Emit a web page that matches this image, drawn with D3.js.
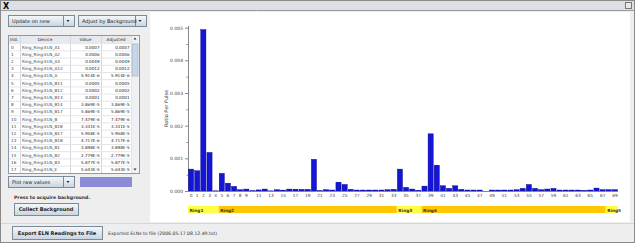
<!DOCTYPE html>
<html>
<head>
<meta charset="utf-8">
<script src="https://cdn.jsdelivr.net/npm/d3@7"></script>
<style>
body { margin: 0; background: #eeeeee; overflow: hidden; }
svg text { font-family: "DejaVu Sans", sans-serif; }
</style>
</head>
<body>
<svg id="app" width="635" height="243"></svg>
<script>
// bar categories (ELN index) and ratio per pulse
var categories = [0,1,2,3,4,5,6,7,8,9,10,11,12,13,14,15,16,17,18,19,
	20,21,22,23,24,25,26,27,28,29,30,31,32,33,34,35,36,37,38,39,
	40,41,42,43,44,45,46,47,48,49,50,51,52,53,54,55,56,57,58,59,
	60,61,62,63,64,65,66,67,68,69];
var values = [0.00067, 0.00062, 0.00494, 0.00118, 0.000005914, 0.00054, 0.00024, 0.00014, 0.00003869, 0.00005869,
	0.000007479, 0.00003331, 0.00005958, 0.000004717, 0.00003898, 0.00002779, 0.00005877, 0.00005643, 0.00005, 0.00005,
	0.00097, 0.00001, 0.00004, 0.00003, 0.00027, 0.0002, 0.00005, 0.00003, 0.00003, 0.00003,
	0.00003, 0.00003, 0.00004, 0.00005, 0.00067, 0.00011, 0.00006, 0.00002, 0.00015, 0.00175,
	0.00079, 0.00016, 0.00008, 0.00016, 0.00005, 0.00003, 0.00003, 0.00003, 0.0, 0.00003,
	0.00003, 0.00003, 0.00003, 0.00004, 0.00008, 0.0002, 0.00008, 0.00004, 0.00006, 0.00008,
	0.00003, 0.00003, 0.00003, 0.00003, 0.00002, 0.00003, 0.00009, 0.00004, 0.00004, 0.00004];

var yTicks = [0, 0.001, 0.002, 0.003, 0.004, 0.005];
var yMinor = [0.0005, 0.0015, 0.0025, 0.0035, 0.0045];

var rings = ["Ring1", "Ring2", "Ring3", "Ring4", "Ring5"];
var ringFirst = [0, 5, 34, 38, 68];
var ringLast = [4, 33, 37, 67, 69];
var ringColors = ["#ffff44", "#ffc800", "#ffff44", "#ffc800", "#ffff44"];

// table rows (first 18 devices)
var devices = ["Ring_Ring:ELN_A1", "Ring_Ring:ELN_A2", "Ring_Ring:ELN_A3", "Ring_Ring:ELN_A12", "Ring_Ring:ELN_A",
	"Ring_Ring:ELN_B11", "Ring_Ring:ELN_B12", "Ring_Ring:ELN_B13", "Ring_Ring:ELN_B14", "Ring_Ring:ELN_B17",
	"Ring_Ring:ELN_B", "Ring_Ring:ELN_B18", "Ring_Ring:ELN_B17", "Ring_Ring:ELN_B18", "Ring_Ring:ELN_B1",
	"Ring_Ring:ELN_B2", "Ring_Ring:ELN_B3", "Ring_Ring:ELN_E"];
var tableHeaders = ["Ind.", "Device", "Value", "Adjusted"];

var svg = d3.select("#app");

// gradient for buttons
var defs = svg.append("defs");
var grad = defs.append("linearGradient").attr("id", "btn").attr("x1", 0).attr("y1", 0).attr("x2", 0).attr("y2", 1);
grad.append("stop").attr("offset", "0%").attr("stop-color", "#f6f8fb");
grad.append("stop").attr("offset", "100%").attr("stop-color", "#c8d4e0");

// window frame
svg.append("rect").attr("x", 0).attr("y", 0).attr("width", 635).attr("height", 243).attr("fill", "#eeeeee");
svg.append("rect").attr("x", 0).attr("y", 0).attr("width", 635).attr("height", 10).attr("fill", "#dcdfe3");
svg.append("line").attr("x1", 0).attr("x2", 635).attr("y1", 10.5).attr("y2", 10.5).attr("stroke", "#9a9a9a");
svg.append("text").attr("x", 3).attr("y", 8.5).attr("font-size", 8).attr("font-weight", "bold").text("X");
svg.append("rect").attr("x", 625.5).attr("y", 2.5).attr("width", 6).attr("height", 6)
	.attr("fill", "#e8e8e8").attr("stroke", "#777");
svg.append("rect").attr("x", 0.5).attr("y", 0.5).attr("width", 634).attr("height", 242)
	.attr("fill", "none").attr("stroke", "#8a8a8a");

function combo(x, y, w, label) {
	var c = svg.append("g");
	c.append("rect").attr("x", x + .5).attr("y", y + .5).attr("width", w).attr("height", 11)
		.attr("fill", "url(#btn)").attr("stroke", "#7a8a99");
	c.append("line").attr("x1", x + w - 10.5).attr("x2", x + w - 10.5).attr("y1", y + 1).attr("y2", y + 11)
		.attr("stroke", "#7a8a99");
	c.append("path").attr("d", "M" + (x + w - 7.5) + "," + (y + 5) + "l3,0l-1.5,2z").attr("fill", "#222");
	c.append("text").attr("x", x + 4).attr("y", y + 8).attr("font-size", 5).attr("fill", "#222").text(label);
}

function button(x, y, w, h, label) {
	svg.append("rect").attr("x", x + .5).attr("y", y + .5).attr("width", w).attr("height", h)
		.attr("fill", "url(#btn)").attr("stroke", "#7a8a99");
	svg.append("text").attr("x", x + w / 2).attr("y", y + h / 2 + 2).attr("text-anchor", "middle")
		.attr("font-size", 5).attr("font-weight", "bold").attr("fill", "#222").text(label);
}

combo(8, 15, 66, "Update on new");
combo(78, 15, 68, "Adjust by Background");

// table
var tx = 8, ty = 35, rowH = 7.2;
var colX = [8, 20, 70, 101, 131];
var tbl = svg.append("g");
tbl.append("rect").attr("x", tx + .5).attr("y", ty + .5).attr("width", 131).attr("height", 138)
	.attr("fill", "#ffffff").attr("stroke", "#8a9aa8");
tbl.append("rect").attr("x", tx + 1).attr("y", ty + 1).attr("width", 122).attr("height", rowH)
	.attr("fill", "#e6e9ee");
tbl.selectAll(".hd").data(tableHeaders).enter().append("text")
	.attr("x", function(d, i) { return (colX[i] + colX[i + 1]) / 2; })
	.attr("y", ty + 6).attr("text-anchor", "middle").attr("font-size", 4.3).attr("fill", "#333")
	.text(function(d) { return d; });
tbl.selectAll(".vl").data(colX.slice(1)).enter().append("line")
	.attr("x1", function(d) { return d + .5; }).attr("x2", function(d) { return d + .5; })
	.attr("y1", ty + 1).attr("y2", ty + 138).attr("stroke", "#d4d8dd");

function fmt(v) {
	if (v >= 0.0001) return v.toFixed(4);
	return v.toExponential(3).replace("e", "E");
}

var rows = tbl.selectAll(".row").data(devices).enter().append("g")
	.attr("transform", function(d, i) { return "translate(0," + (ty + 1 + rowH * (i + 1)) + ")"; });
rows.append("line").attr("x1", tx + 1).attr("x2", colX[4]).attr("y1", .5).attr("y2", .5).attr("stroke", "#e2e5e9");
rows.append("text").attr("x", 11).attr("y", 5.4).attr("font-size", 4.2).attr("fill", "#444")
	.text(function(d, i) { return i; });
rows.append("text").attr("x", 22).attr("y", 5.4).attr("font-size", 4.2).attr("fill", "#444")
	.text(function(d) { return d; });
rows.append("text").attr("x", 99.5).attr("y", 5.4).attr("text-anchor", "end").attr("font-size", 4.1).attr("fill", "#222")
	.text(function(d, i) { return fmt(values[i]); });
rows.append("text").attr("x", 129.5).attr("y", 5.4).attr("text-anchor", "end").attr("font-size", 4.1).attr("fill", "#222")
	.text(function(d, i) { return fmt(values[i]); });

// scrollbar
tbl.append("rect").attr("x", 131.5).attr("y", ty + 1).attr("width", 7).attr("height", 137).attr("fill", "#eef0f3");
tbl.append("rect").attr("x", 132).attr("y", ty + 9).attr("width", 6).attr("height", 32)
	.attr("fill", "#c6d6e8").attr("stroke", "#8aa0b8").attr("stroke-width", .5);
tbl.append("path").attr("d", "M133.5,39.5l3,0l-1.5,-2z").attr("fill", "#333");
tbl.append("path").attr("d", "M133.5,168.5l3,0l-1.5,2z").attr("fill", "#333");

combo(8, 176, 66, "Plot raw values");
svg.append("rect").attr("x", 80).attr("y", 177).attr("width", 52).attr("height", 10).attr("fill", "#8c8cd6");

svg.append("text").attr("x", 14).attr("y", 199).attr("font-size", 4.6).attr("font-weight", "bold")
	.attr("fill", "#333").text("Press to acquire background.");
button(14, 203, 64, 12, "Collect Background");

svg.append("line").attr("x1", 1).attr("x2", 634).attr("y1", 223.5).attr("y2", 223.5).attr("stroke", "#d6d6d6");
button(12, 226, 90, 13, "Export ELN Readings to File");
svg.append("text").attr("x", 108).attr("y", 234.5).attr("font-size", 4.6).attr("fill", "#333")
	.text("Exported ELNs to file (2006.05.17.08.12.49.txt)");

// chart panel
svg.append("rect").attr("x", 150).attr("y", 12).attr("width", 480).attr("height", 210).attr("fill", "#ffffff");

var x = d3.scaleBand()
	.domain(categories)
	.range([188, 618])
	.paddingInner(0.16)
	.paddingOuter(0.08);

var y = d3.scaleLinear()
	.domain([0, 0.00505])
	.range([191, 26]);

var g = svg.append("g");

g.append("g")
	.attr("transform", "translate(188,0)")
	.call(d3.axisLeft(y).tickValues(yMinor).tickSize(1.5).tickFormat(""))
	.call(function(a) { a.select(".domain").remove(); a.selectAll("line").attr("stroke", "#888"); });

g.append("g")
	.attr("class", "axis axis--y")
	.attr("transform", "translate(188,0)")
	.call(d3.axisLeft(y).tickValues(yTicks).tickSize(3).tickPadding(2).tickFormat(d3.format(".3f")))
	.call(function(a) {
		a.select(".domain").attr("stroke", "#888").attr("d", "M0.5," + y(0.00505) + "V" + y(0) );
		a.selectAll("line").attr("stroke", "#888");
		a.selectAll("text").attr("font-size", 4.5).attr("fill", "#444").attr("font-family", "DejaVu Sans");
	});

g.append("text")
	.attr("transform", "translate(168," + ((y(0) + y(0.00505)) / 2) + ") rotate(-90)")
	.attr("text-anchor", "middle")
	.attr("font-size", 5)
	.attr("fill", "#333")
	.text("Ratio Per Pulse");

g.selectAll(".bar")
	.data(values)
	.enter().append("rect")
	.attr("class", "bar")
	.attr("x", function(d, i) { return x(categories[i]); })
	.attr("y", function(d) { return y(d); })
	.attr("width", x.bandwidth())
	.attr("height", function(d) { return y(0) - y(d); })
	.attr("fill", "#1515d6")
	.attr("stroke", "#00008a")
	.attr("stroke-width", .4);

g.append("g")
	.attr("class", "axis axis--x")
	.attr("transform", "translate(0," + y(0) + ")")
	.call(d3.axisBottom(x).tickSize(0).tickPadding(3)
		.tickFormat(function(d) { return (d < 10 || d % 2 == 1) ? d : ""; }))
	.call(function(a) {
		a.select(".domain").attr("stroke", "#888").attr("d", "M188,0.5H618");
		a.selectAll("text").attr("font-size", 4.3).attr("fill", "#444").attr("font-family", "DejaVu Sans");
	});

// ring bands under the axis
var gap = (x.step() - x.bandwidth()) / 2;
var band = g.selectAll(".ring").data(rings).enter().append("g").attr("class", "ring");
band.append("rect")
	.attr("x", function(d, i) { return x(categories[ringFirst[i]]) - gap; })
	.attr("y", 206)
	.attr("width", function(d, i) { return x(categories[ringLast[i]]) + x.bandwidth() + gap - (x(categories[ringFirst[i]]) - gap); })
	.attr("height", 7)
	.attr("fill", function(d, i) { return ringColors[i]; });
band.append("text")
	.attr("x", function(d, i) { return x(categories[ringFirst[i]]) + 1; })
	.attr("y", 211.5)
	.attr("font-size", 4.3)
	.attr("font-weight", "bold")
	.attr("fill", "#333")
	.text(function(d) { return d; });
</script>
</body>
</html>
